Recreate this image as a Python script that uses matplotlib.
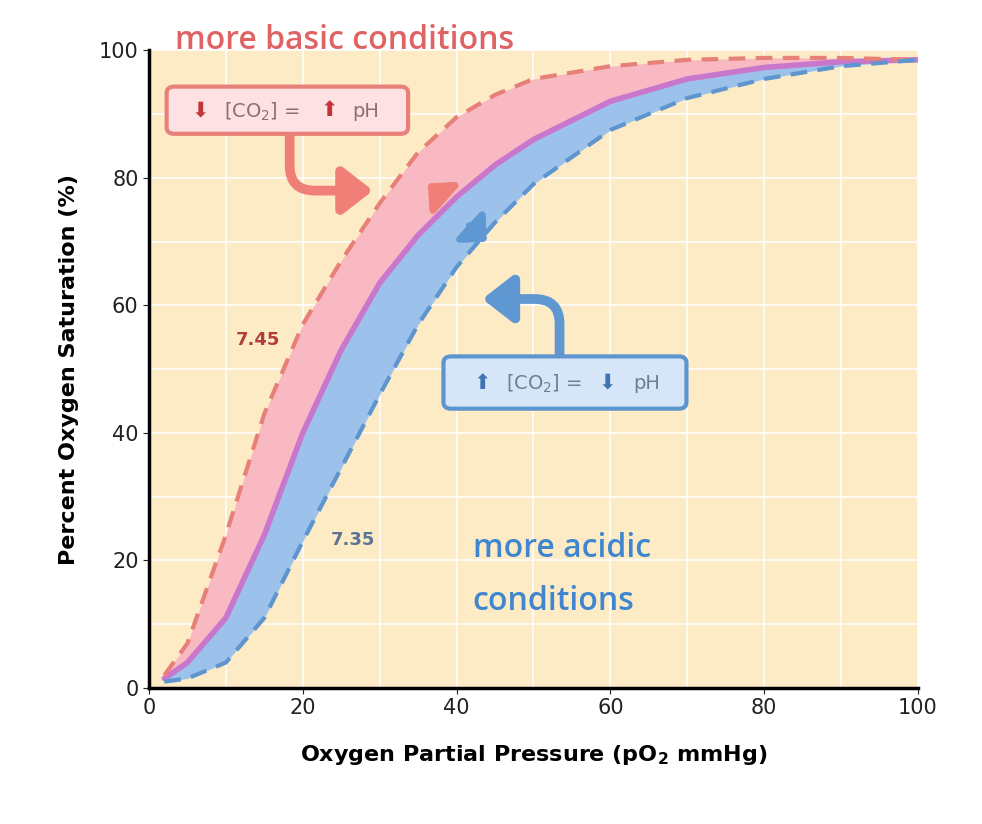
import matplotlib.pyplot as plt
from matplotlib.patches import FancyBboxPatch, FancyArrowPatch

# Datos
po2 = [2, 5, 10, 15, 20, 25, 30, 35, 40, 45, 50, 60, 70, 80, 90, 100]
sat_745 = [2, 7, 24, 43, 57, 67, 76, 84, 89.5, 93, 95.5, 97.5, 98.5, 98.8, 98.8, 98.5]
sat_740 = [1.5, 4, 11, 24, 40, 53, 63.5, 71, 77, 82, 86, 92, 95.5, 97.3, 98.2, 98.5]
sat_735 = [1, 1.5, 4, 11, 23, 34.5, 46, 57, 66, 73, 79, 87.5, 92.5, 95.5, 97.5, 98.5]
xticks = [0, 20, 40, 60, 80, 100]
yticks = [0, 20, 40, 60, 80, 100]

RED = "#E8807A"
BLUE = "#5E95CF"

fig = plt.figure(figsize=(9.82, 8.24), dpi=100)
ax = fig.add_axes([0.1517, 0.165, 0.783, 0.774])
ax.set_facecolor("#FDEBC6")
ax.set_xlim(0, 100)
ax.set_ylim(0, 100)
ax.set_xticks(xticks)
ax.set_yticks(yticks)
ax.set_xticks(range(10, 100, 20), minor=True)
ax.set_yticks(range(10, 100, 20), minor=True)
ax.grid(which="both", color="white", lw=1.5, alpha=0.8)
ax.set_axisbelow(True)
ax.tick_params(which="minor", length=0)
ax.tick_params(labelsize=15, length=4, colors="#222222")
for s in ["top", "right"]:
    ax.spines[s].set_visible(False)
for s in ["left", "bottom"]:
    ax.spines[s].set_linewidth(2.5)

ax.fill_between(po2, sat_745, sat_740, color="#F9B9C2", lw=0)
ax.fill_between(po2, sat_740, sat_735, color="#9CC2EC", lw=0)
ax.plot(po2, sat_740, color="#C877CC", lw=4, solid_capstyle="round")
ax.plot(po2, sat_745, color=RED, lw=3, dashes=(4, 2.5))
ax.plot(po2, sat_735, color=BLUE, lw=3, dashes=(4, 2.5))

ax.set_xlabel("Oxygen Partial Pressure (pO$_\\mathbf{2}$ mmHg)", fontsize=16, fontweight="bold", labelpad=18)
ax.set_ylabel("Percent Oxygen Saturation (%)", fontsize=16, fontweight="bold", labelpad=14)

ax.text(14.2, 54.5, "7.45", color="#B23B3B", fontsize=13, fontweight="bold", ha="center", va="center")
ax.text(26.5, 23.2, "7.35", color="#5C7394", fontsize=13, fontweight="bold", ha="center", va="center")

ax.text(3.4, 101.5, "more basic conditions", color="#E06363", fontsize=23, family="Open Sans",
        fontweight="semibold", va="center", clip_on=False)
ax.text(42.1, 21.9, "more acidic", color="#3F86CF", fontsize=23, family="Open Sans",
        fontweight="semibold", va="center")
ax.text(42.1, 13.5, "conditions", color="#3F86CF", fontsize=23, family="Open Sans",
        fontweight="semibold", va="center")

# Cajas
ax.add_patch(FancyBboxPatch((2.3, 86.9), 31.4, 7.4, boxstyle="round,pad=0,rounding_size=1",
                            fc="#FDE1E3", ec=RED, lw=3, zorder=5))
ax.text(6.6, 90.6, "⬇", fontsize=15, color="#C0343A", ha="center", va="center", zorder=6)
ax.text(14.7, 90.4, "[CO$_2$] =", fontsize=14, color="#8A7070", ha="center", va="center", zorder=6)
ax.text(23.5, 90.6, "⬆", fontsize=15, color="#C0343A", ha="center", va="center", zorder=6)
ax.text(28.2, 90.4, "pH", fontsize=14, color="#8A7070", ha="center", va="center", zorder=6)

ax.add_patch(FancyBboxPatch((38.3, 43.8), 31.6, 8.2, boxstyle="round,pad=0,rounding_size=1",
                            fc="#D6E6F8", ec=BLUE, lw=3, zorder=5))
ax.text(43.3, 47.9, "⬆", fontsize=15, color="#3F74B0", ha="center", va="center", zorder=6)
ax.text(51.4, 47.7, "[CO$_2$] =", fontsize=14, color="#6F7F90", ha="center", va="center", zorder=6)
ax.text(59.6, 47.9, "⬇", fontsize=15, color="#3F74B0", ha="center", va="center", zorder=6)
ax.text(64.7, 47.7, "pH", fontsize=14, color="#6F7F90", ha="center", va="center", zorder=6)

# Flechas dobladas
ax.add_patch(FancyArrowPatch((18.3, 86.9), (29.5, 78), connectionstyle="angle,angleA=-90,angleB=0,rad=25",
                             arrowstyle="-|>,head_width=0.7,head_length=0.9",
                             mutation_scale=20, color="#F07F78", lw=7, zorder=4))
ax.add_patch(FancyArrowPatch((53.4, 52), (43, 61), connectionstyle="angle,angleA=90,angleB=180,rad=25",
                             arrowstyle="-|>,head_width=0.7,head_length=0.9",
                             mutation_scale=20, color="#5F97D2", lw=7, zorder=4))
# Flechas pequeñas
ax.add_patch(FancyArrowPatch((38.6, 76.6), (36.0, 79.4), arrowstyle="-|>,head_width=0.6,head_length=0.6",
                             mutation_scale=20, color="#F07F78", lw=5, zorder=4))
ax.add_patch(FancyArrowPatch((41.4, 72.8), (44.2, 69.7), arrowstyle="-|>,head_width=0.6,head_length=0.6",
                             mutation_scale=20, color="#5F97D2", lw=5, zorder=4))

fig.savefig("out.png", dpi=100)
